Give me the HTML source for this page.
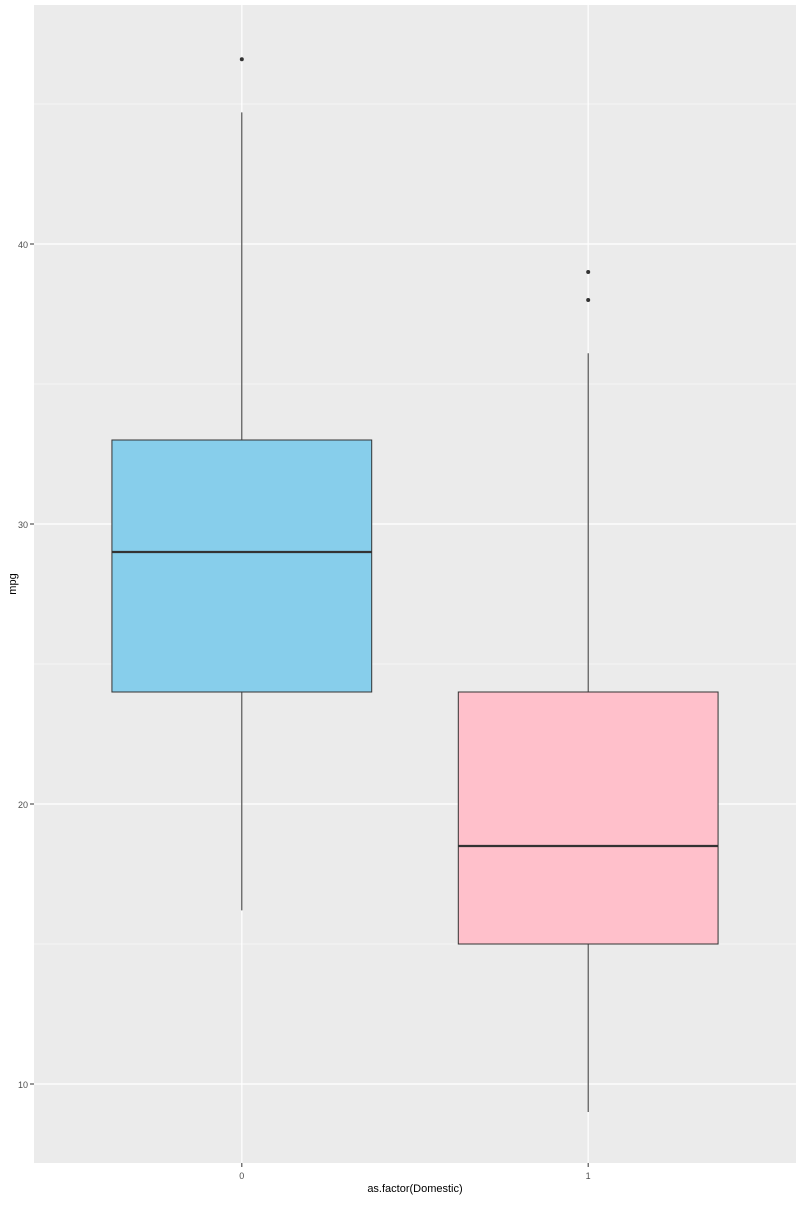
<!DOCTYPE html>
<html><head><meta charset="utf-8"><style>
html,body{margin:0;padding:0;background:#fff;}
svg text{font-family:"Liberation Sans",sans-serif;}
</style></head><body>
<svg id="chart" width="800" height="1200" xmlns="http://www.w3.org/2000/svg">
<rect x="34" y="5" width="762" height="1158" fill="#ebebeb"/>
<g id="grid"></g>
<g id="marks"></g>
<g id="axes"></g>
<text x="415" y="1192" text-anchor="middle" font-size="11" fill="#000">as.factor(Domestic)</text>
<text x="16" y="584" text-anchor="middle" font-size="11" fill="#000" transform="rotate(-90 16 584)">mpg</text>
</svg>
<script>
const categories = ["0", "1"];
const q1 = [24, 15];
const medians = [29, 18.5];
const q3 = [33, 24];
const whiskerLow = [16.2, 9];
const whiskerHigh = [44.7, 36.1];
const outliers = [[46.6], [39, 38]];
const fills = ["#87ceeb", "#ffc0cb"];
const yTicks = [10, 20, 30, 40];
const yMinor = [15, 25, 35, 45];

const NS = "http://www.w3.org/2000/svg";
const panelL = 34, panelR = 796;
function y(v){ return 244 + (40 - v) * 28; }
function x(i){ return panelL + (i + 1 - 0.4) * (panelR - panelL) / 2.2; }
const bw = 0.75 * (panelR - panelL) / 2.2 / 2;
function mk(tag, attrs, parent){
  const e = document.createElementNS(NS, tag);
  for (const k in attrs) e.setAttribute(k, attrs[k]);
  parent.appendChild(e); return e;
}
const grid = document.getElementById("grid");
const marks = document.getElementById("marks");
const axes = document.getElementById("axes");
yMinor.forEach(v => {
  const l = mk("line", {x1: panelL, x2: panelR, y1: y(v), y2: y(v), stroke: "#fff", "stroke-width": 0.6}, grid);
  
  
});
yTicks.forEach(v => {
  const l = mk("line", {x1: panelL, x2: panelR, y1: y(v), y2: y(v), stroke: "#fff", "stroke-width": 1.2}, grid);
  
  
  const t = mk("line", {x1: 30, x2: 34, y1: y(v), y2: y(v), stroke: "#333", "stroke-width": 1}, axes);
  
  
  const tx = mk("text", {x: 28, y: y(v) + 4, "text-anchor": "end", "font-size": 9, fill: "#4d4d4d"}, axes);
  tx.textContent = v;
  
  
});
categories.forEach((c, i) => {
  const cx = x(i);
  const g = mk("line", {x1: cx, x2: cx, y1: 5, y2: 1163, stroke: "#fff", "stroke-width": 1.2}, grid);
  
  
  const t = mk("line", {x1: cx, x2: cx, y1: 1163, y2: 1167, stroke: "#333", "stroke-width": 1}, axes);
  
  
  const tx = mk("text", {x: cx, y: 1179, "text-anchor": "middle", "font-size": 9, fill: "#4d4d4d"}, axes);
  tx.textContent = c;
  
  

  const w1 = mk("line", {x1: cx, x2: cx, y1: y(whiskerHigh[i]), y2: y(q3[i]), stroke: "#333", "stroke-width": 1}, marks);
  
  
  const w2 = mk("line", {x1: cx, x2: cx, y1: y(q1[i]), y2: y(whiskerLow[i]), stroke: "#333", "stroke-width": 1}, marks);
  
  
  const b = mk("rect", {x: cx - bw, y: y(q3[i]), width: 2 * bw, height: y(q1[i]) - y(q3[i]), fill: fills[i], stroke: "#333", "stroke-width": 1}, marks);
  
  
  const m = mk("line", {x1: cx - bw, x2: cx + bw, y1: y(medians[i]), y2: y(medians[i]), stroke: "#333", "stroke-width": 2.2}, marks);
  
  
  outliers[i].forEach(o => {
    const p = mk("circle", {cx: cx, cy: y(o), r: 2, fill: "#333"}, marks);
    
    
  });
});
</script>
</body></html>
